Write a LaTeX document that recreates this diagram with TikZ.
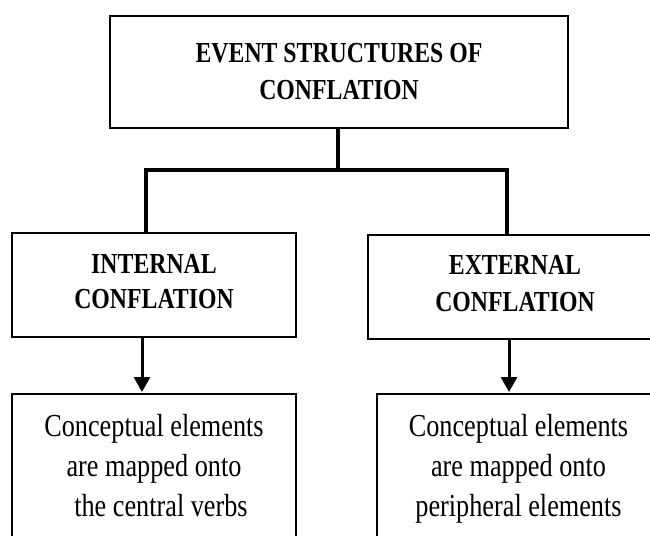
\documentclass[tikz,border=0pt]{standalone}
\usepackage{fontspec}
\setmainfont{Liberation Serif}[FakeStretch=0.82]
\usetikzlibrary{arrows.meta}
\begin{document}
\begin{tikzpicture}[x=1pt,y=-1pt,
  box/.style={draw=black,line width=2.7pt,rectangle,inner sep=0pt,outer sep=0pt},
  head/.style={font=\fontsize{29}{35}\selectfont\bfseries,anchor=base,inner sep=0pt},
  body/.style={font=\fontsize{32}{40}\selectfont,anchor=base,inner sep=0pt},
  tree/.style={line width=3.6pt},
  arr/.style={line width=3pt,-{Triangle[length=15pt,width=16pt]},shorten >=2pt}]
\useasboundingbox (0,0) rectangle (650,535);
\clip (0,0) rectangle (650,535);
% boxes
\node[box,minimum width=458pt,minimum height=112pt] (top) at (339,72) {};
\node[box,minimum width=284pt,minimum height=104pt] (lb) at (154,285) {};
\node[box,minimum width=294pt,minimum height=104pt] (rb) at (515,287) {};
\node[box,minimum width=284pt,minimum height=166pt] (lbb) at (154,477) {};
\node[box,minimum width=293pt,minimum height=166pt] (rbb) at (523.5,477) {};
% texts
\node[head] (t1) at (339,63) {EVENT STRUCTURES OF};
\node[head] (t2) at (339,99) {CONFLATION};
\node[head] (l1) at (154,273) {INTERNAL};
\node[head] (l2) at (154,308) {CONFLATION};
\node[head] (r1) at (515,274) {EXTERNAL};
\node[head] (r2) at (515,311) {CONFLATION};
\node[body] (lb1) at (154,436) {Conceptual elements};
\node[body] (lb2) at (154,476) {are mapped onto};
\node[body] (lb3) at (161,516) {the central verbs};
\node[body] (rb1) at (518.5,436) {Conceptual elements};
\node[body] (rb2) at (518.5,476) {are mapped onto};
\node[body] (rb3) at (518.5,516) {peripheral elements};
% tree connectors
\coordinate (j) at (338,170);
\coordinate (bl) at (146,170);
\coordinate (br) at (507,170);
\draw[tree] (top.south -| j) -- (j);
\draw[tree] (lb.north -| bl) -- (bl) -- (br) -- (rb.north -| br);
% arrows
\coordinate (ax) at (142,0);
\coordinate (bx) at (509,0);
\draw[arr] (lb.south -| ax) -- (lbb.north -| ax);
\draw[arr] (rb.south -| bx) -- (rbb.north -| bx);
\end{tikzpicture}
\end{document}
